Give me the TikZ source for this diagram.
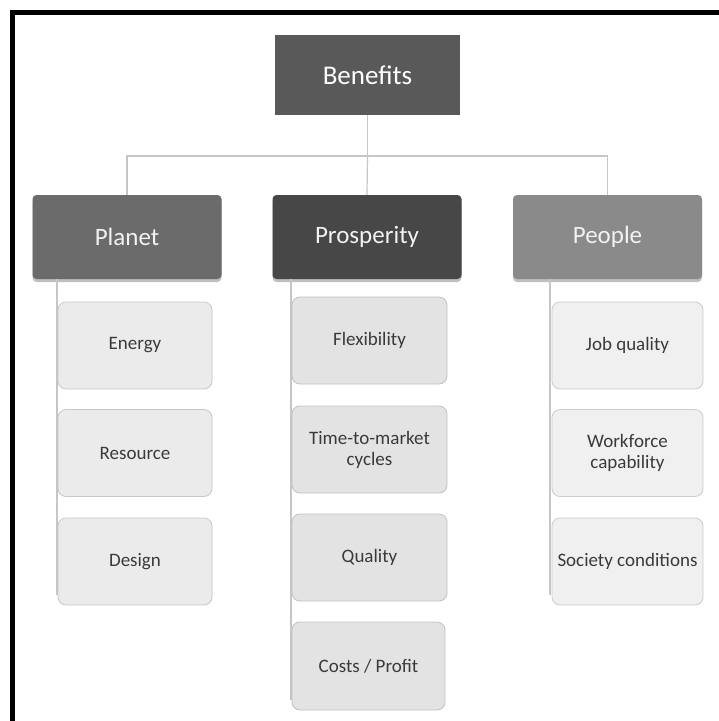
\documentclass[tikz,border=0pt]{standalone}
\usepackage{fontspec}
\setmainfont{Carlito}
\usetikzlibrary{shadows}
\definecolor{benc}{HTML}{595959}
\definecolor{planc}{HTML}{6B6B6B}
\definecolor{prosc}{HTML}{474747}
\definecolor{peopc}{HTML}{8A8A8A}
\definecolor{linec}{HTML}{C6C6C6}
\definecolor{txtc}{HTML}{3A3A3A}
\definecolor{leafa}{HTML}{EBEBEB}
\definecolor{leafb}{HTML}{E3E3E3}
\definecolor{leafc}{HTML}{F0F0F0}
\tikzset{
  x=1pt, y=-1pt,
  top/.style={fill=benc, minimum width=185pt, minimum height=80pt, inner sep=0pt, text=white, font=\fontsize{27}{30}\selectfont},
  head/.style={rounded corners=4pt, minimum width=189pt, minimum height=84pt, inner sep=0pt, text=white!95!black,
     font=\fontsize{25}{29}\selectfont,
     drop shadow={shadow xshift=0pt, shadow yshift=-3pt, opacity=0.25, fill=black}},
  leaf/.style={rounded corners=8pt, draw=#1!85!black, line width=0.8pt, fill=#1, minimum width=154pt, minimum height=87pt,
     inner sep=1pt, align=center, text=txtc, font=\fontsize{19}{21}\selectfont},
  conn/.style={draw=linec, line width=1.2pt},
}
\begin{document}
\begin{tikzpicture}
\useasboundingbox (0,0) rectangle (719,721);
\fill[white] (0,0) rectangle (719,721);
\draw[line width=5pt, line cap=rect] (719,12.5) -- (12.5,12.5) -- (12.5,721);

\coordinate (hb) at (367.5,156);
\coordinate (plend) at (57,595);
\coordinate (prend) at (291,700);
\coordinate (peend) at (550,595);

\node[top] (ben) at (367.5,75) {Benefits};
\node[head, fill=planc] (planet) at (127,237) {Planet};
\node[head, fill=prosc] (pros) at (367,237) {Prosperity};
\node[head, fill=peopc] (people) at (607.5,237) {People};

\draw[conn] (ben.south) -- (ben.south |- hb);
\draw[conn] (planet.north) |- (hb) -| (people.north);
\draw[conn] (hb) -- (pros.north);
\draw[conn] (planet.south -| plend) -- (plend);
\draw[conn] (pros.south -| prend) -- (prend);
\draw[conn] (people.south -| peend) -- (peend);

\node[leaf=leafa] (energy) at (135,345.5) {Energy};
\node[leaf=leafa] (resource) at (135,453) {Resource};
\node[leaf=leafa] (design) at (135,561.5) {Design};

\node[leaf=leafb, minimum width=155pt] (flex) at (369.5,340.5) {Flexibility};
\node[leaf=leafb, minimum width=155pt] (ttm) at (369.5,449.5) {Time-to-market\\cycles};
\node[leaf=leafb, minimum width=155pt] (qual) at (369.5,557.5) {Quality};
\node[leaf=leafb, minimum width=153pt, minimum height=88pt] (cost) at (368.5,666) {Costs / Profit};

\node[leaf=leafc, minimum width=151pt] (job) at (627.5,345.5) {Job quality};
\node[leaf=leafc, minimum width=151pt] (work) at (627.5,453) {Workforce\\capability};
\node[leaf=leafc, minimum width=151pt] (soc) at (627.5,561.5) {Society conditions};
\end{tikzpicture}
\end{document}
